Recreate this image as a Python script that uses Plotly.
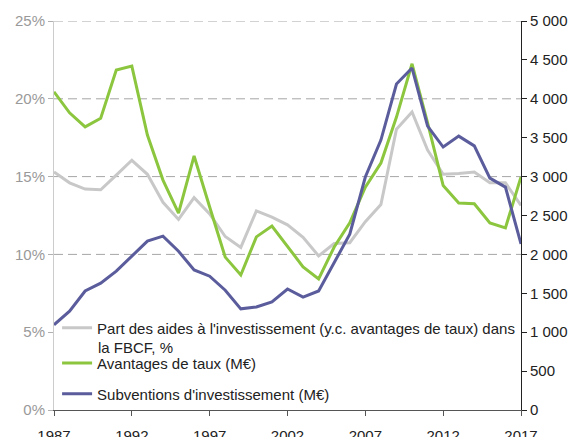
import plotly.graph_objects as go

years = list(range(1987, 2018))
part_aides_pct = [15.3, 14.6, 14.2, 14.15, 15.1, 16.05, 15.15, 13.35, 12.25, 13.65,
                  12.6, 11.15, 10.45, 12.8, 12.4, 11.9, 11.1, 9.9, 10.7, 10.75,
                  12.1, 13.2, 18.05, 19.15, 16.7, 15.15, 15.2, 15.3, 14.6, 14.6, 13.15]
avantages_taux = [4090, 3820, 3640, 3750, 4370, 4420, 3535, 2955, 2530, 3265,
                  2610, 1965, 1735, 2225, 2365, 2095, 1840, 1685, 2095, 2405,
                  2865, 3175, 3765, 4450, 3690, 2885, 2660, 2650, 2405, 2340, 2995]
subventions = [1095, 1270, 1530, 1630, 1785, 1980, 2170, 2235, 2040, 1800,
               1720, 1540, 1300, 1325, 1390, 1555, 1450, 1530, 1890, 2260,
               2995, 3470, 4190, 4395, 3650, 3380, 3520, 3395, 2980, 2865, 2135]

name_part = "Part des aides à l'investissement (y.c. avantages de taux) dans"
name_part_line2 = "la FBCF, %"
name_av = "Avantages de taux (M€)"
name_sub = "Subventions d'investissement (M€)"

x_ticks = [1987, 1992, 1997, 2002, 2007, 2012, 2017]
left_ticks = [0, 5, 10, 15, 20, 25]
left_labels = ["0%", "5%", "10%", "15%", "20%", "25%"]
right_ticks = [0, 500, 1000, 1500, 2000, 2500, 3000, 3500, 4000, 4500, 5000]
right_labels = ["0", "500", "1 000", "1 500", "2 000", "2 500", "3 000",
                "3 500", "4 000", "4 500", "5 000"]
grid_pct = [10, 15, 20, 25]

FONT = "Liberation Sans, Arial, sans-serif"
GREY = "#c8c8c8"
GREEN = "#8cc63f"
BLUE = "#5a5c9c"

fig = go.Figure()
fig.add_trace(go.Scatter(x=years, y=part_aides_pct, mode="lines", name=name_part,
                         line=dict(color=GREY, width=3), yaxis="y", legend="legend"))
fig.add_trace(go.Scatter(x=years, y=avantages_taux, mode="lines", name=name_av,
                         line=dict(color=GREEN, width=3), yaxis="y2", legend="legend2"))
fig.add_trace(go.Scatter(x=years, y=subventions, mode="lines", name=name_sub,
                         line=dict(color=BLUE, width=3), yaxis="y2", legend="legend3"))

for g in grid_pct:
    fig.add_shape(type="line", xref="paper", x0=0, x1=1, yref="y", y0=g, y1=g,
                  line=dict(color="#a6a6a6", width=1, dash="9px,5px"), layer="below")

def leg(ypos):
    return dict(x=0.0066, xanchor="left", y=ypos, yanchor="middle",
                bgcolor="rgba(0,0,0,0)", borderwidth=0,
                font=dict(family=FONT, size=15, color="#222"))

# the page body adds an 8px offset, margins compensate for it
fig.update_layout(
    width=576, height=437,
    margin=dict(l=46, r=63, t=13, b=35, autoexpand=False),
    paper_bgcolor="white", plot_bgcolor="white",
    font=dict(family=FONT, size=15, color="#222"),
    showlegend=True,
    legend=leg(0.211),
    legend2=leg(0.1203),
    legend3=leg(0.041),
    xaxis=dict(range=[1987, 2017], tickmode="array", tickvals=x_ticks, automargin=False,
               ticks="outside", ticklen=5, ticklabelstandoff=7,
               tickcolor="#555", showline=True, linecolor="#555", linewidth=1,
               showgrid=False, zeroline=False, tickfont=dict(color="#222", size=15)),
    yaxis=dict(range=[0, 25], tickmode="array", tickvals=left_ticks, ticktext=left_labels,
               automargin=False,
               ticks="outside", ticklen=5, tickcolor="#b0b0b0", showline=True,
               linecolor="#cccccc", linewidth=1, showgrid=False, zeroline=False,
               tickfont=dict(color="#999999", size=15)),
    yaxis2=dict(range=[0, 5000], tickmode="array", tickvals=right_ticks,
                ticktext=right_labels, overlaying="y", automargin=False,
                side="right", ticks="outside", ticklen=5, tickcolor="#222",
                showline=True, linecolor="#222", linewidth=1, showgrid=False,
                zeroline=False, tickfont=dict(color="#222", size=15)),
    yaxis3=dict(range=[0, 5000], tickmode="array", tickvals=right_ticks, overlaying="y",
                side="right", ticks="inside", ticklen=5, tickcolor="#222", automargin=False,
                showticklabels=False, showline=False, showgrid=False, zeroline=False),
)

fig.add_annotation(text=name_part_line2, xref="paper", yref="paper",
                   x=0.0904, y=0.160, xanchor="left", yanchor="middle",
                   showarrow=False, font=dict(family=FONT, size=15, color="#222"))

fig.write_html("out.html")
